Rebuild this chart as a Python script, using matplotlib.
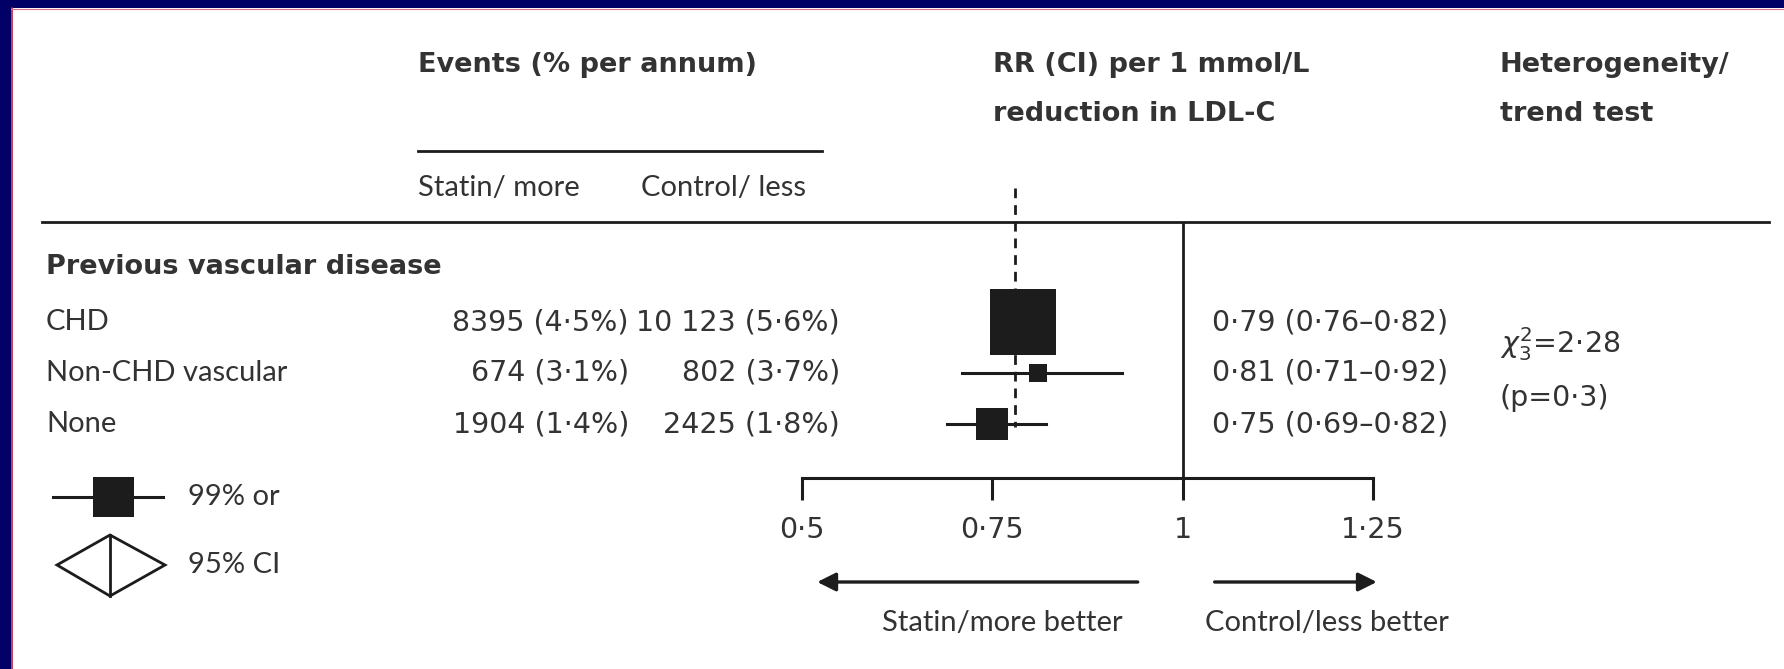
import numpy as np
import matplotlib
matplotlib.use("Agg")
import matplotlib.pyplot as plt
from matplotlib.patches import Rectangle, Polygon

plt.rcParams['font.family'] = ['Lato', 'DejaVu Sans']

# Subgroup results by previous vascular disease
groups = ["CHD", "Non-CHD vascular", "None"]
statin_events = [8395, 674, 1904]
statin_pct = [4.5, 3.1, 1.4]
control_events = [10123, 802, 2425]
control_pct = [5.6, 3.7, 1.8]
rr = [0.79, 0.81, 0.75]
ci_low = [0.76, 0.71, 0.69]
ci_high = [0.82, 0.92, 0.82]
overall_rr = 0.78
chi2_value = 2.28
chi2_df = 3
p_value = 0.3
x_ticks = [0.5, 0.75, 1.0, 1.25]

W, H = 1784, 669
INK = "#1c1c1c"
TXT = "#333333"
NAVY = "#000066"

# text styles: plain words, numeric columns, bold headings
WORD = dict(fontsize=21, color=TXT, family=['Lato', 'DejaVu Sans'])
NUM = dict(fontsize=20.5, color=TXT, family=['DejaVu Sans'])
HEAD = dict(fontsize=19.5, color=TXT, family=['DejaVu Sans'], fontweight="bold")


def dot(v, nd):
    return f"{v:.{nd}f}".replace(".", "\u00b7")


def count(n):
    # Lancet style: gap only for 5+ digit numbers
    return f"{n:,}".replace(",", " ") if n >= 10000 else str(n)


def tick_fmt(v):
    return "1" if v == 1 else f"{v:g}".replace(".", "\u00b7")


fig = plt.figure(figsize=(W / 100, H / 100), dpi=100)
fig.patch.set_facecolor("white")

# overlay in pixel units for the table text and rules
ov = fig.add_axes([0, 0, 1, 1])
ov.set_xlim(0, W)
ov.set_ylim(H, 0)
ov.axis("off")

# frame
ov.add_patch(Rectangle((0, 0), W, 8, color=NAVY, lw=0))
ov.add_patch(Rectangle((0, 0), 11, H, color=NAVY, lw=0))
ov.plot([12, 12], [8, H], color="#c0183c", lw=1.2)
ov.plot([11, W], [8.5, 8.5], color="#e07090", lw=0.8)

# header
ov.text(418, 65, "Events (% per annum)", va="center", **HEAD)
ov.plot([418, 822], [151, 151], color=INK, lw=2)
ov.text(418, 188, "Statin/ more", va="center", **WORD)
ov.text(641, 188, "Control/ less", va="center", **WORD)
ov.text(993, 65, "RR (CI) per 1 mmol/L", va="center", **HEAD)
ov.text(993, 114, "reduction in LDL-C", va="center", **HEAD)
ov.text(1500, 65, "Heterogeneity/", va="center", **HEAD)
ov.text(1500, 114, "trend test", va="center", **HEAD)
ov.plot([42, 1769], [222, 222], color=INK, lw=2)

# forest panel: x in RR units, y in row units
ax = fig.add_axes([802 / W, 1 - 478 / H, (1373 - 802) / W, (478 - 222) / H])
ax.set_xlim(0.5, 1.25)
ax.set_ylim(3.06, -1.96)
ax.patch.set_alpha(0)
for s in ["top", "left", "right"]:
    ax.spines[s].set_visible(False)
ax.spines["bottom"].set_linewidth(2.2)
ax.spines["bottom"].set_color(INK)
ax.set_yticks([])
ax.set_xticks(x_ticks)
ax.set_xticklabels([tick_fmt(v) for v in x_ticks], **NUM)
ax.tick_params(axis="x", direction="out", length=16, width=2.2, color=INK, pad=11)

ax.axvline(1.0, color=INK, lw=2)
ax.plot([overall_rr, overall_rr], [-2.63, 2.06], color=INK, lw=2,
        dashes=(3.5, 2.5), clip_on=False)

rows = np.arange(len(groups))
total_events = np.array(statin_events) + np.array(control_events)
box_px = 66 * np.sqrt(total_events / total_events.max())
for i in rows:
    ax.plot([ci_low[i], ci_high[i]], [i, i], color=INK, lw=2.2, zorder=3)
    ax.plot(rr[i], i, marker="s", ms=box_px[i] * 0.72, color=INK, mew=0, zorder=4)

# row labels
row_y = {i: 322 + 51 * i for i in rows}
ov.text(46, 267, "Previous vascular disease", va="center", **HEAD)
for i in rows:
    y = row_y[i]
    ov.text(46, y, groups[i], va="center", **WORD)
    ov.text(629, y, f"{count(statin_events[i])} ({dot(statin_pct[i], 1)}%)",
            va="center", ha="right", **NUM)
    ov.text(840, y, f"{count(control_events[i])} ({dot(control_pct[i], 1)}%)",
            va="center", ha="right", **NUM)
    ov.text(1212, y, f"{dot(rr[i], 2)} ({dot(ci_low[i], 2)}\u2013{dot(ci_high[i], 2)})",
            va="center", **NUM)

ov.text(1500, 344, rf"$\chi^2_{chi2_df}$={dot(chi2_value, 2)}", va="center", **NUM)
ov.text(1500, 398, f"(p={dot(p_value, 1)})", va="center", **NUM)

# direction arrows under the axis
arrow_y = 1 - 582 / H
arrow_kw = dict(arrowstyle="-|>", lw=2.4, color=INK, mutation_scale=28, shrinkA=0, shrinkB=0)
ax.annotate("", xy=(0.52, arrow_y), xytext=(0.941, arrow_y),
            xycoords=("data", "figure fraction"), textcoords=("data", "figure fraction"),
            arrowprops=arrow_kw)
ax.annotate("", xy=(1.255, arrow_y), xytext=(1.042, arrow_y),
            xycoords=("data", "figure fraction"), textcoords=("data", "figure fraction"),
            arrowprops=arrow_kw)
ov.text(1002, 623, "Statin/more better", va="center", ha="center", **WORD)
ov.text(1327, 623, "Control/less better", va="center", ha="center", **WORD)

# key
ov.plot([53, 163], [497, 497], color=INK, lw=2.2)
ov.add_patch(Rectangle((93, 477), 41, 40, color=INK, lw=0))
ov.text(188, 497, "99% or", va="center", **WORD)
ov.add_patch(Polygon([[57, 565], [110, 535], [165, 565], [110, 596]],
                     closed=True, fill=False, ec=INK, lw=2))
ov.plot([110, 110], [535, 596], color=INK, lw=2)
ov.text(188, 565, "95% CI", va="center", **WORD)

fig.savefig("out.png", dpi=100, facecolor="white")
